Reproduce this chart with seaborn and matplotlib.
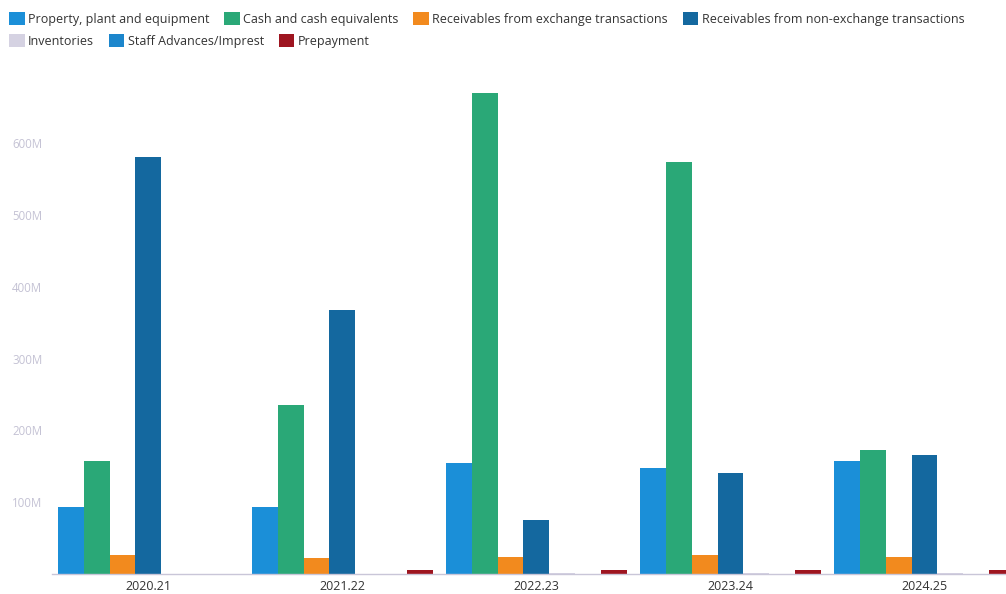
import numpy as np
import pandas as pd
import seaborn as sns
import matplotlib
matplotlib.use("Agg")
import matplotlib.pyplot as plt
from matplotlib.patches import Patch
from matplotlib.ticker import FuncFormatter

# Financial years
years = ["2020.21", "2021.22", "2022.23", "2023.24", "2024.25"]

# Asset classes (legend order)
series = [
    "Property, plant and equipment",
    "Cash and cash equivalents",
    "Receivables from exchange transactions",
    "Receivables from non-exchange transactions",
    "Inventories",
    "Staff Advances/Imprest",
    "Prepayment",
]

# Balances in millions
ppe = [92.6, 93.0, 155.0, 148.0, 157.0]
cash = [158.0, 235.0, 670.0, 573.0, 172.0]
recv_exchange = [25.8, 21.6, 24.0, 26.0, 24.0]
recv_nonexchange = [580.0, 367.0, 74.5, 140.0, 165.0]
inventories = [0.0, 0.0, 1.2, 1.5, 1.2]
staff_advances = [0.0, 0.0, 0.0, 0.0, 0.0]
prepayment = [0.0, 5.0, 6.0, 6.0, 6.0]

colors = ["#1b8fd8", "#2aa877", "#f28a1e", "#14689f", "#d5d2e2", "#1c86cc", "#9e1520"]

values = [ppe, cash, recv_exchange, recv_nonexchange, inventories, staff_advances, prepayment]
rows = []
for name, vals in zip(series, values):
    for yr, v in zip(years, vals):
        rows.append({"year": yr, "series": name, "value": v * 1e6})
df = pd.DataFrame(rows)

sns.set_theme(style="white")
plt.rcParams["font.family"] = ["Open Sans", "DejaVu Sans"]

fig = plt.figure(figsize=(10.06, 5.94), dpi=100)
ax = fig.add_axes([0.0517, 0.0337, 0.9483, 0.8463])

sns.barplot(
    data=df, x="year", y="value", hue="series",
    order=years, hue_order=series, palette=colors,
    width=0.93, saturation=1, dodge=True, legend=False,
    linewidth=0, errorbar=None, ax=ax,
)

ax.set_ylim(0, 700e6)
ax.set_xlim(-0.496, 4.42)
ax.set_yticks([100e6, 200e6, 300e6, 400e6, 500e6, 600e6])
ax.yaxis.set_major_formatter(FuncFormatter(lambda v, p: f"{int(round(v / 1e6))}M"))
ax.tick_params(axis="y", labelsize=8.3, labelcolor="#c4c2d4", length=0, pad=7)
ax.tick_params(axis="x", labelsize=9, labelcolor="#333333", length=0, pad=4)
ax.set_xlabel("")
ax.set_ylabel("")
for side in ["top", "right", "left"]:
    ax.spines[side].set_visible(False)
ax.spines["bottom"].set_color("#c9c6d8")
ax.spines["bottom"].set_linewidth(1.0)
ax.grid(False)

handles = [Patch(facecolor=c, edgecolor="none") for c in colors]
legend_kw = dict(
    frameon=False, fontsize=9, handlelength=1.25, handleheight=1.25,
    handletextpad=0.25, columnspacing=1.2, borderpad=0, borderaxespad=0,
    labelcolor="#333333", loc="upper left",
)
leg1 = fig.legend(handles[:4], series[:4], ncol=4,
                  bbox_to_anchor=(0.009, 0.98), **legend_kw)
leg2 = fig.legend(handles[4:], series[4:], ncol=3,
                  bbox_to_anchor=(0.009, 0.943), **legend_kw)

fig.savefig("out.png", dpi=100)
